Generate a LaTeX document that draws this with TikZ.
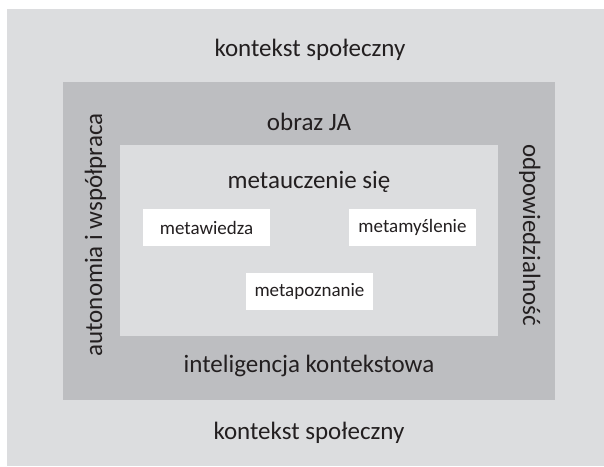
\documentclass[tikz,border=0pt]{standalone}
\usepackage{fontspec}
\setmainfont{Carlito}
\definecolor{lightg}{HTML}{DCDDDF}
\definecolor{midg}{HTML}{BDBEC1}
\definecolor{txt}{HTML}{231F20}
\begin{document}
\begin{tikzpicture}[x=1pt,y=-1pt,
  big/.style={text=txt,font=\fontsize{25}{28}\selectfont,inner sep=0pt,anchor=base},
  small/.style={text=txt,font=\fontsize{19}{22}\selectfont,inner sep=0pt},
  wbox/.style={fill=white,draw=none}]
\useasboundingbox (0,0) rectangle (604,466);
\fill[lightg] (7,9) rectangle (604,466);
\fill[midg] (63,82) rectangle (555,400);
\fill[lightg] (120,145) rectangle (498,336);
\fill[white] (143,209) rectangle (270,246);
\fill[white] (349,209) rectangle (476,246);
\fill[white] (246,273) rectangle (373,310);
\node[big] (kt) at (310,56) {kontekst społeczny};
\node[big] (kb) at (309,439) {kontekst społeczny};
\node[big] (oj) at (309,130) {obraz JA};
\node[big] (mu) at (309,188) {metauczenie się};
\node[big] (ik) at (309,372) {inteligencja kontekstowa};
\node[big,rotate=90] (aw) at (102,235) {autonomia i współpraca};
\node[big,rotate=-90] (od) at (523,235) {odpowiedzialność};
\node[small] (mw) at (206.5,227.5) {metawiedza};
\node[small] (mm) at (412.5,227.5) {metamyślenie};
\node[small] (mp) at (309.5,291.5) {metapoznanie};
\end{tikzpicture}
\end{document}
